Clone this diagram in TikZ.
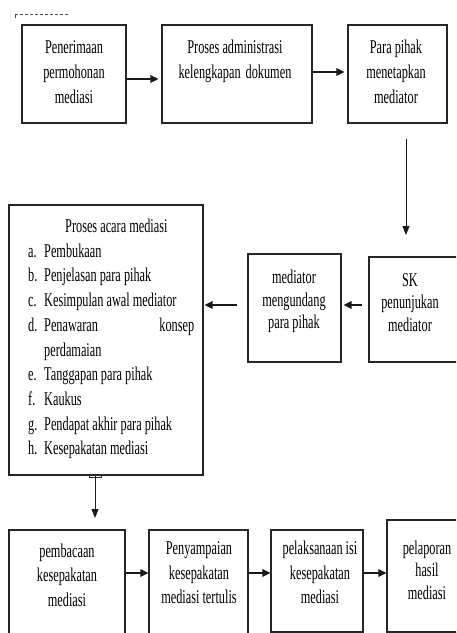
\documentclass[tikz,border=0pt]{standalone}
\usepackage{fontspec}
\setmainfont[FakeStretch=0.63]{Liberation Serif}
\usetikzlibrary{arrows.meta,fit}
\begin{document}
\begin{tikzpicture}[x=1pt,y=-1pt,
  box/.style={draw=black!85,line width=1.2pt,inner sep=0pt,fit={#1}},
  txt/.style={align=center,inner sep=0pt,font=\fontsize{19.5}{25}\selectfont},
  txtm/.style={align=center,inner sep=0pt,font=\fontsize{19.5}{22.5}\selectfont},
  txtb/.style={align=center,inner sep=0pt,font=\fontsize{19.5}{24.5}\selectfont},
  arr/.style={draw=black!90,line width=1.4pt,-{Triangle[length=8pt,width=7.5pt]}},
  varr/.style={draw=black!90,line width=0.9pt,-{Triangle[length=9pt,width=7pt]}}]
\useasboundingbox (0,0) rectangle (456,633);
\clip (0,0) rectangle (456,633);
% artefact at top left
\draw[black!70,line width=1pt,dash pattern=on 3pt off 2pt] (15,14) -- (70,14);
\draw[black!70,line width=1pt] (15,14) -- (15,18);
% top row
\node[box={(22,25) (126,123)}] (b1) {};
\node[box={(162,25) (312,123)}] (b2) {};
\node[box={(348,25) (447,123)}] (b3) {};
\node[txt] (t1) at (74,72) {Penerimaan\\permohonan\\mediasi};
\node[txt] (t2) at (235,61) {Proses administrasi\\kelengkapan\hspace{5pt}dokumen};
\node[txt] (t3) at (396,72) {Para pihak\\menetapkan\\mediator};
\coordinate (r1) at (0,79);
\coordinate (r2) at (0,72);
\draw[arr] (b1.east |- r1) -- ([xshift=-3pt]b2.west |- r1);
\draw[arr] (b2.east |- r2) -- ([xshift=-3pt]b3.west |- r2);
\coordinate (d1s) at (406,139);
\coordinate (d1e) at (406,235);
\draw[varr] (d1s) -- (d1e);
% middle row
\node[box={(9,205) (203,475)}] (big) {};
\node[box={(248,254) (341,362)}] (m) {};
\node[box={(369,257) (462,362)}] (sk) {};
\node[txtm] (tm) at (294,301.5) {mediator\\mengundang\\para pihak};
\node[txtm] (tsk) at (410,302.5) {SK\\penunjukan\\mediator};
\node[anchor=west,align=left,inner sep=0pt,font=\fontsize{19.5}{24.7}\selectfont] (list) at (28,339) {%
\hspace*{37pt}Proses acara mediasi\\
\makebox[16pt][l]{a.}Pembukaan\\
\makebox[16pt][l]{b.}Penjelasan para pihak\\
\makebox[16pt][l]{c.}Kesimpulan awal mediator\\
\makebox[166pt][l]{\makebox[16pt][l]{d.}Penawaran\hfill konsep}\\
\hspace*{16pt}perdamaian\\
\makebox[16pt][l]{e.}Tanggapan para pihak\\
\makebox[16pt][l]{f.}Kaukus\\
\makebox[16pt][l]{g.}Pendapat akhir para pihak\\
\makebox[16pt][l]{h.}Kesepakatan mediasi};
\coordinate (r3) at (0,305);
\draw[arr] ([xshift=-6pt]sk.west |- r3) -- ([xshift=2pt]m.east |- r3);
\draw[arr] ([xshift=-10pt]m.west |- r3) -- ([xshift=1pt]big.east |- r3);
% bottom row
\node[box={(9,530) (125,650)}] (p1) {};
\node[box={(149,530) (248,650)}] (p2) {};
\node[box={(271,530) (363,632)}] (p3) {};
\node[box={(387,520) (470,632)}] (p4) {};
\node[txtb] (tp1) at (67,575) {pembacaan\\kesepakatan\\mediasi};
\node[txtb] (tp2) at (199,573) {Penyampaian\\kesepakatan\\mediasi tertulis};
\node[txtb] (tp3) at (320,572.5) {pelaksanaan isi\\kesepakatan\\mediasi};
\node[txtm] (tp4) at (427,570) {pelaporan\\hasil\\mediasi};
\draw[black!85,line width=0.8pt] (89,475) -- (89,477) -- (101,477) -- (101,475);
\coordinate (d2e) at (95,518);
\draw[varr] (big.south -| d2e) -- (d2e);
\coordinate (r4) at (0,573);
\draw[arr] (p1.east |- r4) -- (p2.west |- r4);
\draw[arr] (p2.east |- r4) -- (p3.west |- r4);
\draw[arr] (p3.east |- r4) -- (p4.west |- r4);
\end{tikzpicture}
\end{document}
